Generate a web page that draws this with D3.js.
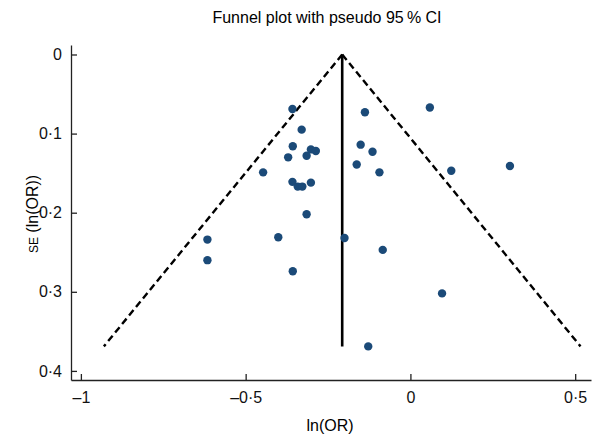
<!DOCTYPE html>
<html lang="en">
  <head>
    <meta charset="utf-8" />
    <style>
      body { margin: 0; background: #fff; }
      text { font-family: "Liberation Sans", Arial, sans-serif; }
    </style>
  </head>
  <body>
    <script type="text/javascript" src="https://d3js.org/d3.v7.min.js"></script>
    <script>
      var width = 592,
        height = 444;

      // study estimates: ln(OR) and its SE
      var lnOR = [
        -0.358, -0.138, 0.059, -0.330, -0.357, -0.151, -0.115, -0.302, -0.287,
        -0.315, -0.371, -0.163, 0.302, 0.124, -0.447, -0.094, -0.358, -0.342,
        -0.328, -0.302, -0.315, -0.616, -0.401, -0.200, -0.084, -0.616, -0.357,
        0.096, -0.128
      ];
      var se = [
        0.069, 0.073, 0.067, 0.095, 0.116, 0.114, 0.123, 0.120, 0.122,
        0.128, 0.130, 0.139, 0.141, 0.147, 0.149, 0.149, 0.161, 0.167,
        0.167, 0.162, 0.202, 0.234, 0.231, 0.232, 0.247, 0.260, 0.274,
        0.302, 0.369
      ];
      var pooled = -0.207;
      var seMax = 0.369;
      var xTicks = [-1, -0.5, 0, 0.5];
      var yTicks = [0, 0.1, 0.2, 0.3, 0.4];

      var svg = d3
        .select("body")
        .append("svg")
        .attr("width", width)
        .attr("height", height);

      var x = d3.scaleLinear().domain([-1.03, 0.548]).range([71, 591]);
      var y = d3.scaleLinear().domain([-0.012, 0.4115]).range([45, 380]);

      // 0.5 -> 0·5, -1 -> –1
      function fmt(v) {
        if (v === 0) return "0";
        return String(v).replace("-", "\u2013").replace(".", "\u00b7");
      }

      svg
        .append("text")
        .attr("x", 327)
        .attr("y", 23)
        .attr("text-anchor", "middle")
        .style("font-size", "16px")
        .text("Funnel plot with pseudo 95\u2009% CI");

      // axes, ticks point inward
      var xAxis = svg
        .append("g")
        .attr("transform", "translate(0,380)")
        .call(
          d3.axisBottom(x).tickValues(xTicks).tickFormat(fmt)
            .tickSizeInner(-6).tickSizeOuter(0).tickPadding(12)
        );
      var yAxis = svg
        .append("g")
        .attr("transform", "translate(71,0)")
        .call(
          d3.axisLeft(y).tickValues(yTicks).tickFormat(fmt)
            .tickSizeInner(-6).tickSizeOuter(0).tickPadding(9)
        );
      svg.selectAll(".domain, .tick line").attr("stroke", "#222").attr("stroke-width", 1.3);
      svg.selectAll(".tick text")
        .attr("fill", "#111")
        .style("font-size", "16px")
        .style("font-family", "'Liberation Sans', Arial, sans-serif");

      svg
        .append("text")
        .attr("x", 330)
        .attr("y", 431)
        .attr("text-anchor", "middle")
        .style("font-size", "16px")
        .text("ln(OR)");

      var yl = svg
        .append("text")
        .attr("transform", "translate(38,214) rotate(-90)")
        .attr("text-anchor", "middle")
        .style("font-size", "16px");
      yl.append("tspan").style("font-size", "12px").text("SE");
      yl.append("tspan").text(" (ln(OR))");

      // pseudo 95% limits
      var lo = [[pooled, 0], [pooled - 1.96 * seMax, seMax]];
      var hi = [[pooled, 0], [pooled + 1.96 * seMax, seMax]];
      var line = d3.line()
        .x(function (d) { return x(d[0]); })
        .y(function (d) { return y(d[1]); });
      [lo, hi].forEach(function (p) {
        svg.append("path")
          .attr("d", line(p))
          .attr("fill", "none")
          .attr("stroke", "#000")
          .attr("stroke-width", 2.4)
          .attr("stroke-dasharray", "7,4");
      });

      svg.append("path")
        .attr("d", line([[pooled, 0], [pooled, seMax]]))
        .attr("stroke", "#000")
        .attr("stroke-width", 2.6);

      svg
        .selectAll("circle")
        .data(d3.range(lnOR.length))
        .join("circle")
        .attr("cx", function (i) { return x(lnOR[i]); })
        .attr("cy", function (i) { return y(se[i]); })
        .attr("r", 4.2)
        .attr("fill", "#1b4a78");
    </script>
  </body>
</html>
